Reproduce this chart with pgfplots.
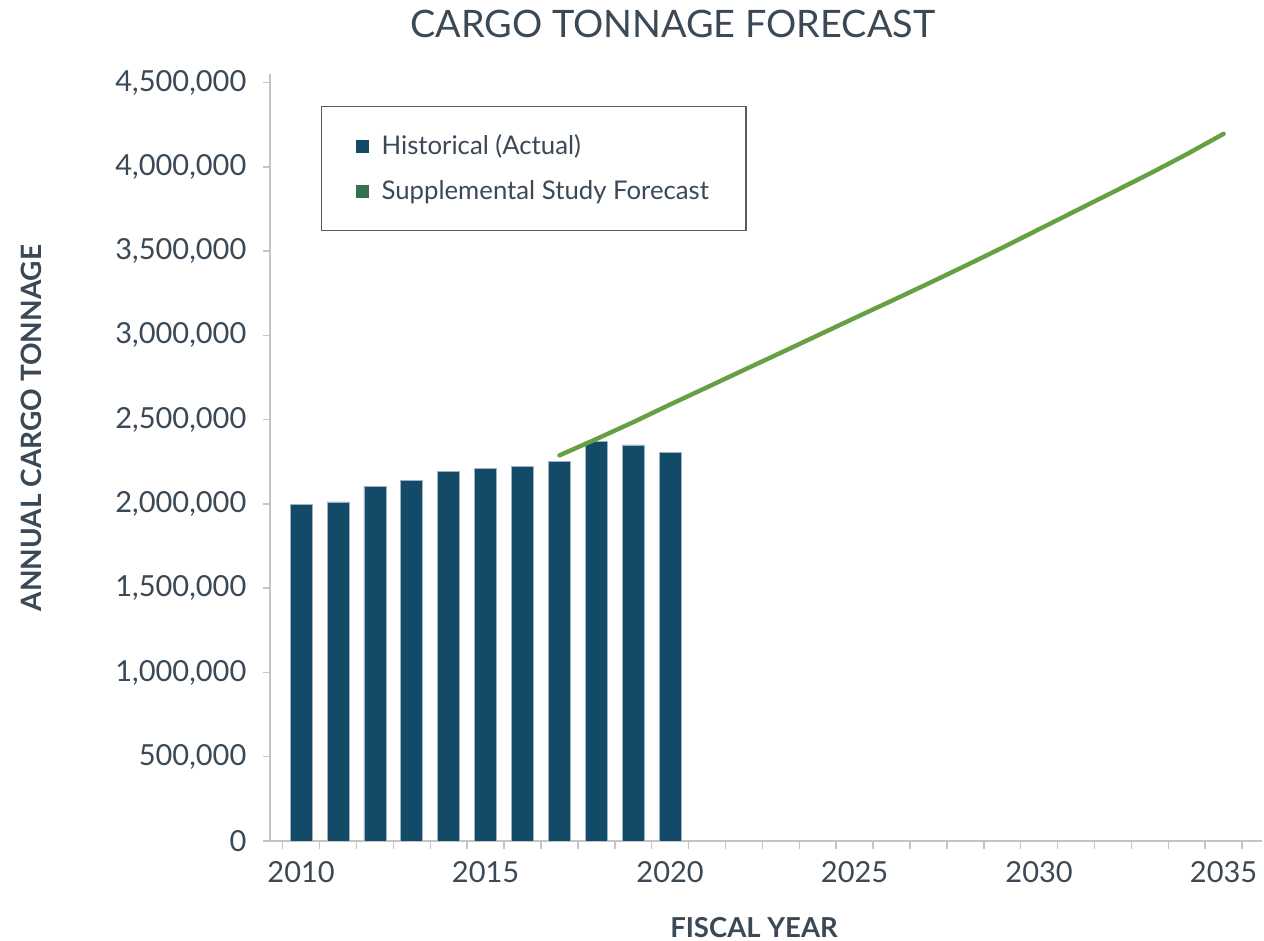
\documentclass[border=0pt]{standalone}
\usepackage{pgfplots}
\pgfplotsset{compat=1.18}
\usepackage{fontspec}
\setmainfont{Lato}
\definecolor{barblue}{HTML}{124A67}
\definecolor{baredge}{HTML}{9DB3C2}
\definecolor{linegreen}{HTML}{65A043}
\definecolor{leggreen}{HTML}{36714D}
\definecolor{txt}{HTML}{3B4956}
\definecolor{axgray}{HTML}{C4C4C4}
\definecolor{legbox}{HTML}{5A5A5A}
\begin{document}
\begin{tikzpicture}
\useasboundingbox (-135pt,-50pt) rectangle (497pt,420.5pt);
\begin{axis}[
  at={(0pt,0pt)}, anchor=south west,
  scale only axis, width=496pt, height=383.5pt,
  xmin=2009.156, xmax=2036.04, ymin=0, ymax=4551000,
  axis x line*=bottom, axis y line*=left,
  axis line style={axgray, line width=0.75pt, -},
  ytick={0,500000,...,4500000},
  scaled y ticks=false,
  /pgf/number format/assume math mode=true,
  y tick label style={/pgf/number format/fixed, /pgf/number format/1000 sep={,}, font=\fontsize{14.5}{17}\selectfont, text=txt, xshift=-5pt},
  xtick={2010,2015,...,2035},
  minor xtick={2009.5,2010.5,...,2035.5},
  x tick label style={/pgf/number format/1000 sep={}, font=\fontsize{14.5}{17}\selectfont, text=txt, yshift=-3.5pt},
  tick align=outside, major tick length=3.3pt, minor tick length=3.8pt,
  major x tick style={draw=none},
  minor x tick style={axgray, line width=0.75pt},
  major y tick style={axgray, line width=0.75pt},
  title={CARGO TONNAGE FORECAST},
  title style={at={(axis description cs:0.406,1)}, anchor=base, yshift=12pt, font=\fontsize{18.9}{22}\selectfont, text=txt},
  xlabel={FISCAL YEAR},
  xlabel style={at={(axis description cs:0.4879,0)}, anchor=base, yshift=-48.5pt, font=\bfseries\fontsize{13.75}{17}\selectfont, text=txt},
  ylabel={ANNUAL CARGO TONNAGE},
  ylabel style={at={(axis description cs:-0.2301,0.5385)}, anchor=base, rotate=0, font=\bfseries\fontsize{14}{17}\selectfont, text=txt},
  legend style={at={(axis description cs:0.0514,0.9583)}, anchor=north west, draw=legbox, line width=0.6pt, fill=white,
    inner xsep=16.5pt, inner ysep=12pt, font=\fontsize{12.87}{15.5}\selectfont, text=txt, row sep=7.5pt, cells={anchor=west}},
]
\addplot[ybar, bar width=11pt, bar shift=0pt, fill=barblue, draw=baredge, line width=0.4pt,
  legend image code/.code={\path[draw=none,fill=none] (0pt,0pt) -- (11.5pt,0pt); \path[draw=none,fill=barblue] (0.5pt,-3.25pt) rectangle (7pt,3.25pt);}]
  coordinates {(2010,1996000) (2011,2012000) (2012,2105000) (2013,2138000) (2014,2192000) (2015,2210000)
  (2016,2223000) (2017,2251000) (2018,2373000) (2019,2350000) (2020,2304000)};
\addlegendentry{Historical (Actual)}
\addplot[linegreen, line width=2.2pt, line cap=round, line join=round,
  legend image code/.code={\path[draw=none,fill=none] (0pt,0pt) -- (11.5pt,0pt); \path[draw=none,fill=leggreen] (0.5pt,-3.25pt) rectangle (7pt,3.25pt);}]
  coordinates {(2017,2288000) (2018,2385000) (2019,2485000) (2020,2590000) (2021,2692000) (2022,2795000)
  (2023,2897000) (2024,3000000) (2025,3103000) (2026,3205000) (2027,3308000) (2028,3413000) (2029,3520000)
  (2030,3630000) (2031,3740000) (2032,3850000) (2033,3960000) (2034,4075000) (2035,4196000)};
\addlegendentry{Supplemental Study Forecast}
\end{axis}
\end{tikzpicture}
\end{document}
